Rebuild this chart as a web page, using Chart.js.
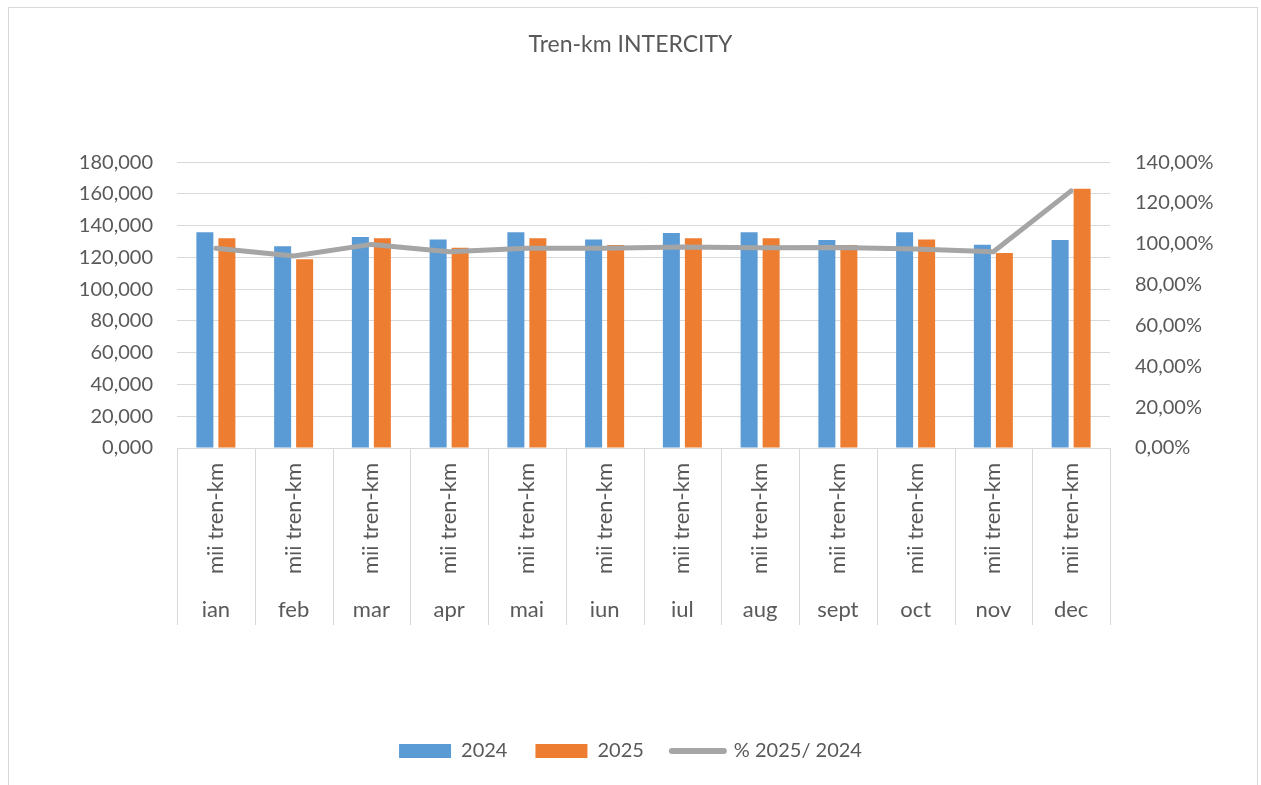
<!DOCTYPE html>
<html><head><meta charset="utf-8">
<script src="https://cdn.jsdelivr.net/npm/chart.js@4.4.1/dist/chart.umd.min.js"></script>
<style>
html,body{margin:0;padding:0;background:#fff;}
#frame{position:absolute;left:8px;top:7px;width:1250px;height:820px;border:1px solid #d9d9d9;box-sizing:border-box;}
#c{position:absolute;left:0;top:0;}
</style></head><body>
<div id="frame"></div>
<canvas id="c" width="1261" height="785"></canvas>
<script>
// ---- data ----
const months = ['ian','feb','mar','apr','mai','iun','iul','aug','sept','oct','nov','dec'];
const unitLabels = ['mii tren-km','mii tren-km','mii tren-km','mii tren-km','mii tren-km','mii tren-km','mii tren-km','mii tren-km','mii tren-km','mii tren-km','mii tren-km','mii tren-km'];
const values2024 = [135.8, 127.0, 132.8, 131.3, 135.8, 131.3, 135.3, 135.8, 130.9, 135.8, 128.0, 130.9];
const values2025 = [132.0, 118.8, 132.0, 126.0, 132.0, 127.8, 132.0, 132.0, 127.8, 131.3, 122.7, 163.2];
const pct2025vs2024 = [97.8, 94.0, 99.7, 96.1, 97.8, 97.8, 98.4, 98.0, 98.2, 97.4, 96.1, 125.9];
const seriesNames = ['2024', '2025', '% 2025/ 2024'];
const chartTitle = 'Tren-km INTERCITY';

const TXT = '#595959', GRID = '#d9d9d9';
const FONT = 'Lato';

const separators = {
  id: 'separators',
  afterDraw(chart) {
    const x = chart.scales.x, x2 = chart.scales.x2, ctx = chart.ctx;
    const n = x.ticks.length;
    const top = chart.chartArea.bottom, bottom = x2.top + 35;
    ctx.save();
    ctx.strokeStyle = GRID; ctx.lineWidth = 1;
    for (let i = 0; i <= n; i++) {
      let px;
      if (i === 0) px = x.left;
      else if (i === n) px = x.right;
      else px = (x.getPixelForTick(i - 1) + x.getPixelForTick(i)) / 2;
      px = Math.round(px) + 0.5;
      ctx.beginPath(); ctx.moveTo(px, top); ctx.lineTo(px, bottom); ctx.stroke();
    }
    ctx.restore();
  }
};

new Chart(document.getElementById('c'), {
  type: 'bar',
  data: {
    labels: months,
    datasets: [
      { label: seriesNames[0], data: values2024, backgroundColor: '#5b9bd5', yAxisID: 'y', xAxisID: 'x',
        categoryPercentage: 0.566, barPercentage: 0.773, order: 1 },
      { label: seriesNames[1], data: values2025, backgroundColor: '#ed7d31', yAxisID: 'y', xAxisID: 'x',
        categoryPercentage: 0.566, barPercentage: 0.773, order: 1 },
      { type: 'line', label: seriesNames[2], data: pct2025vs2024, borderColor: '#a5a5a5', backgroundColor: '#a5a5a5',
        borderWidth: 5, pointRadius: 0, tension: 0, yAxisID: 'y1', xAxisID: 'x', order: 0,
        borderJoinStyle: 'round', borderCapStyle: 'round' }
    ]
  },
  options: {
    responsive: false,
    animation: false,
    devicePixelRatio: 1,
    layout: { padding: { left: 0, right: 0, top: 0, bottom: 14 } },
    plugins: {
      title: { display: true, text: chartTitle, color: TXT, font: { family: FONT, size: 23, weight: 'normal' },
        padding: { top: 30.5, bottom: 104 } },
      tooltip: { enabled: false },
      legend: {
        position: 'bottom',
        labels: {
          color: TXT, font: { family: FONT, size: 20 }, padding: 28,
          usePointStyle: true, pointStyleWidth: 52, boxHeight: 14,
          generateLabels(chart) {
            const ds = chart.data.datasets;
            return [
              { text: ds[0].label, fillStyle: ds[0].backgroundColor, strokeStyle: ds[0].backgroundColor, lineWidth: 0, pointStyle: 'rect', datasetIndex: 0, fontColor: TXT },
              { text: ds[1].label, fillStyle: ds[1].backgroundColor, strokeStyle: ds[1].backgroundColor, lineWidth: 0, pointStyle: 'rect', datasetIndex: 1, fontColor: TXT },
              { text: ds[2].label, fillStyle: ds[2].borderColor, strokeStyle: ds[2].borderColor, lineWidth: 6, lineCap: 'round', pointStyle: 'line', datasetIndex: 2, fontColor: TXT }
            ];
          }
        }
      }
    },
    scales: {
      x: {
        type: 'category', labels: unitLabels, position: 'bottom', offset: true,
        grid: { display: false, drawTicks: false, offset: true },
        border: { display: true, color: GRID, width: 1 },
        ticks: { color: TXT, font: { family: FONT, size: 22 }, minRotation: 90, maxRotation: 90, autoSkip: false, padding: 15 },
        afterFit(s) { s.height = 142; }
      },
      x2: {
        type: 'category', labels: months, position: 'bottom', offset: true,
        grid: { display: false, drawTicks: false },
        border: { display: false },
        ticks: { color: TXT, font: { family: FONT, size: 22 }, maxRotation: 0, autoSkip: false, padding: 7 },
        afterFit(s) { s.height = 265 - 142; }
      },
      y: {
        position: 'left', min: 0, max: 180,
        ticks: { stepSize: 20, color: TXT, font: { family: FONT, size: 20 }, padding: 24,
          callback: v => Number(v).toFixed(3).replace('.', ',') },
        grid: { color: GRID, lineWidth: 1, drawTicks: false },
        border: { display: false },
        afterFit(s) { s.width = 177; }
      },
      y1: {
        position: 'right', min: 0, max: 140,
        ticks: { stepSize: 20, color: TXT, font: { family: FONT, size: 20 }, padding: 25,
          callback: v => Number(v).toFixed(2).replace('.', ',') + '%' },
        grid: { display: false, drawTicks: false },
        border: { display: false },
        afterFit(s) { s.width = 151; }
      }
    }
  },
  plugins: [separators]
});
</script>
</body></html>
